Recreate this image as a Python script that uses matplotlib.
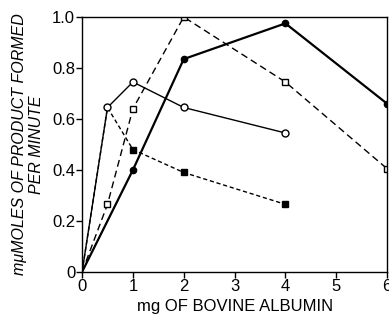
import matplotlib
matplotlib.use('Agg')
import matplotlib.pyplot as plt

# Data
x_filled_circle = [0, 1, 2, 4, 6]
y_filled_circle = [0, 0.40, 0.835, 0.975, 0.66]

x_open_square = [0, 0.5, 1, 2, 4, 6]
y_open_square = [0, 0.265, 0.64, 1.0, 0.745, 0.405]

x_open_circle = [0, 0.5, 1, 2, 4]
y_open_circle = [0, 0.645, 0.745, 0.645, 0.545]

x_filled_square = [0, 0.5, 1, 2, 4]
y_filled_square = [0, 0.645, 0.48, 0.39, 0.265]

x_ticks = [0, 1, 2, 3, 4, 5, 6]
y_ticks = [0, 0.2, 0.4, 0.6, 0.8, 1.0]
y_ticklabels = ['0', '0.2', '0.4', '0.6', '0.8', '1.0']

plt.rcParams['font.family'] = ['Liberation Sans', 'DejaVu Sans']

fig = plt.figure(figsize=(3.89, 3.21), dpi=100)
ax = fig.add_axes([0.211, 0.153, 0.784, 0.794])

ax.plot(x_filled_circle, y_filled_circle, '-', color='black', lw=1.6,
        marker='o', ms=4.5, mfc='black', markevery=list(range(1, 5)))
ax.plot(x_open_square, y_open_square, '--', color='black', lw=1.0,
        dashes=(5, 3), marker='s', ms=5, mfc='white', markevery=list(range(1, 6)))
ax.plot(x_filled_square, y_filled_square, '--', color='black', lw=1.0,
        dashes=(3, 2), marker='s', ms=5, mfc='black', markevery=[2, 3, 4])
ax.plot(x_open_circle, y_open_circle, '-', color='black', lw=1.0,
        marker='o', ms=5, mfc='white', markevery=list(range(1, 5)))

ax.set_xlim(0, 6)
ax.set_ylim(0, 1.0)
ax.set_xticks(x_ticks)
ax.set_yticks(y_ticks)
ax.set_yticklabels(y_ticklabels)
ax.tick_params(direction='out', length=4, width=1, labelsize=12, pad=1)
for s in ax.spines.values():
    s.set_linewidth(1.0)

ax.set_xlabel('mg OF BOVINE ALBUMIN', fontsize=12, labelpad=4)
ax.set_ylabel('m\u03bcMOLES OF PRODUCT FORMED\nPER MINUTE', fontsize=11.5,
              style='italic', labelpad=6, linespacing=1.15)

plt.savefig('out.png', dpi=100)
